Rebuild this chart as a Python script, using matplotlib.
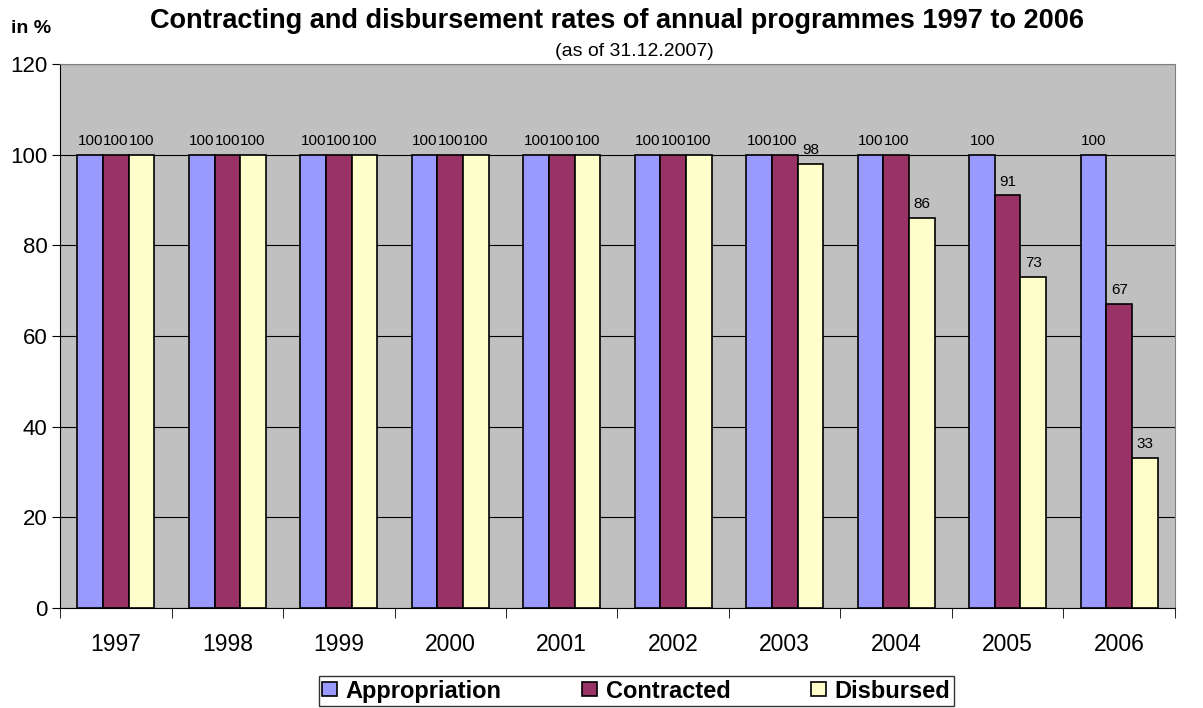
#!/usr/bin/env python3

import numpy as np
import matplotlib
matplotlib.use('Agg')

import matplotlib.pyplot as plt

years = ['1997', '1998', '1999', '2000', '2001', '2002', '2003', '2004', '2005', '2006']
appropriation = [100, 100, 100, 100, 100, 100, 100, 100, 100, 100]
contracted = [100, 100, 100, 100, 100, 100, 100, 100, 91, 67]
disbursed = [100, 100, 100, 100, 100, 100, 98, 86, 73, 33]

series_names = ['Appropriation', 'Contracted', 'Disbursed']
colors = ['#9999ff', '#993366', '#ffffcc']


def main():
    plt.rcParams['font.family'] = ['Liberation Sans', 'DejaVu Sans']

    fig = plt.figure(figsize=(12.03, 7.08), dpi=100)
    ax = fig.add_axes([0.0499, 0.1412, 0.9268, 0.7684])
    ax.set_facecolor('#c0c0c0')

    x = np.arange(len(years))
    w = 0.229
    all_series = [appropriation, contracted, disbursed]
    for i, (vals, name, col) in enumerate(zip(all_series, series_names, colors)):
        bars = ax.bar(x + (i - 1) * w, vals, w, color=col, edgecolor='black',
                      linewidth=1.2, label=name, zorder=3)
        ax.bar_label(bars, labels=[str(v) for v in vals], padding=5, fontsize=11)

    ax.set_xlim(-0.5, len(years) - 0.5)
    ax.set_ylim(0, 120)
    ax.set_yticks(range(0, 121, 20))
    ax.tick_params(axis='y', labelsize=16, length=6, direction='out', pad=3)
    ax.grid(axis='y', color='black', linewidth=0.8, zorder=0)

    ax.set_xticks(x)
    ax.set_xticklabels(years, fontsize=16.5)
    ax.tick_params(axis='x', length=0, pad=18)
    ax.set_xticks(np.arange(-0.5, len(years)), minor=True)
    ax.tick_params(axis='x', which='minor', length=7, direction='out')

    for s in ['top', 'right']:
        ax.spines[s].set_color('#808080')
    ax.spines['left'].set_color('black')
    ax.spines['bottom'].set_color('black')

    fig.text(0.513, 0.971, 'Contracting and disbursement rates of annual programmes 1997 to 2006',
             ha='center', va='center', fontsize=19.5, fontweight='bold')
    fig.text(0.5275, 0.927, '(as of 31.12.2007)', ha='center', va='center', fontsize=14)
    fig.text(0.009, 0.960, 'in %', ha='left', va='center', fontsize=14, fontweight='bold')

    leg = fig.legend(loc='center', bbox_to_anchor=(0.5287, 0.024), ncol=3,
                     prop={'weight': 'bold', 'size': 17}, frameon=True, fancybox=False,
                     edgecolor='black', handlelength=0.65, handleheight=0.55,
                     handletextpad=0.35, columnspacing=3.4, borderpad=0.15)
    leg.get_frame().set_linewidth(1.0)

    plt.savefig('out.png', dpi=100)


if __name__ == "__main__":
    main()
